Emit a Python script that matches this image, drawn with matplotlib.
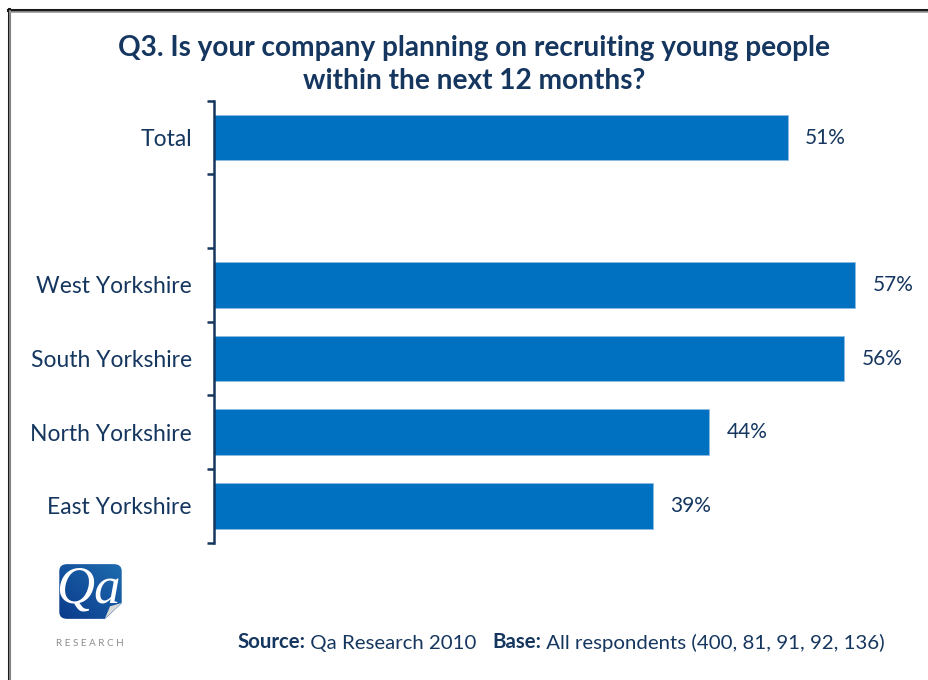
import numpy as np
import matplotlib
matplotlib.use("Agg")
import matplotlib.pyplot as plt
from matplotlib.patches import FancyBboxPatch, Polygon
from matplotlib.lines import Line2D
from matplotlib.text import Annotation

# Survey results
categories = ["Total", "", "West Yorkshire", "South Yorkshire", "North Yorkshire", "East Yorkshire"]
values = [51, None, 57, 56, 44, 39]
value_labels = ["51%", None, "57%", "56%", "44%", "39%"]

title = "Q3. Is your company planning on recruiting young people\nwithin the next 12 months?"
source_parts = [("Source:", "bold"), (" Qa Research 2010   ", "normal"),
                ("Base:", "bold"), (" All respondents (400, 81, 91, 92, 136)", "normal")]

NAVY = "#15365f"
BAR = "#0070c0"
FONT = ["Lato", "DejaVu Sans"]
plt.rcParams["font.family"] = FONT

W, H = 929, 680
fig = plt.figure(figsize=(W / 100, H / 100), dpi=100)
fig.patch.set_facecolor("white")


def fx(px):
    return px / W


def fy(py):
    return 1 - py / H


# Page frame (top and left edges)
for lw, col, off in [(2.2, "#1a1a1a", 0), (1.2, "#9a9a9a", 2)]:
    fig.add_artist(Line2D([fx(8 + off), 1], [fy(9.5 + off), fy(9.5 + off)], color=col, lw=lw,
                          transform=fig.transFigure))
    fig.add_artist(Line2D([fx(8.5 + off), fx(8.5 + off)], [fy(9 + off), 0], color=col, lw=lw,
                          transform=fig.transFigure))

# Bar chart
ax_left, ax_right, ax_top, ax_bot = 214, 900, 100.7, 542.7
ax = fig.add_axes([fx(ax_left), fy(ax_bot), fx(ax_right - ax_left), (ax_bot - ax_top) / H])
px_per_pct = 11.25
ax.set_xlim(0, (ax_right - ax_left) / px_per_pct)
n = len(categories)
ax.set_ylim(n - 0.5, -0.5)

for i, (v, lab) in enumerate(zip(values, value_labels)):
    if v is None:
        continue
    ax.barh(i, v, height=0.62, color=BAR, edgecolor="#8fbbe3", linewidth=0.6)
    ax.annotate(lab, xy=(v, i), xytext=(12.5, 0), textcoords="offset points",
                va="center", ha="left", fontsize=15, color=NAVY)

for s in ["top", "right", "bottom"]:
    ax.spines[s].set_visible(False)
ax.spines["left"].set_color(NAVY)
ax.spines["left"].set_linewidth(1.8)
ax.set_xticks([])
ax.set_yticks(np.arange(-0.5, n, 1.0))
ax.set_yticklabels([])
ax.tick_params(axis="y", which="major", direction="out", length=5, width=1.8, color=NAVY)
ax.set_yticks(np.arange(n), minor=True)
ax.set_yticklabels(categories, minor=True, fontsize=16.5, color=NAVY)
ax.tick_params(axis="y", which="minor", length=0, pad=16)
ax.patch.set_alpha(0)

# Title
fig.text(fx(474), fy(64.5), title, ha="center", va="center", fontsize=20.2, fontweight="bold",
         color=NAVY, linespacing=1.3)

# Source line: pieces chained so each follows the previous one
prev = None
for txt, wt in source_parts:
    if prev is None:
        prev = fig.text(fx(237), fy(648), txt, ha="left", va="baseline", fontsize=14.7,
                        fontweight=wt, color=NAVY)
    else:
        prev = fig.add_artist(Annotation(
            txt, xy=(1, 0), xycoords=prev, xytext=(0, 0), textcoords="offset points",
            ha="left", va="bottom", fontsize=14.7, fontweight=wt, color=NAVY))

# Logo
lx0, lx1, ly0, ly1 = 58, 123, 563, 620
lax = fig.add_axes([fx(lx0), fy(ly1), fx(lx1 - lx0), (ly1 - ly0) / H])
lax.set_xlim(0, 1)
lax.set_ylim(0, 1)
lax.axis("off")
grad = np.linspace(0, 1, 64)
gx, gy = np.meshgrid(grad, grad)
g = (gx * 0.5 + gy * 0.5)
c0 = np.array([0x0b, 0x3a, 0x8a]) / 255
c1 = np.array([0x1e, 0x6c, 0xb0]) / 255
img = c0[None, None, :] * (1 - g[..., None]) + c1[None, None, :] * g[..., None]
im = lax.imshow(img, extent=(0, 1, 0, 1), origin="lower", aspect="auto")
clip = FancyBboxPatch((0.02, 0.02), 0.96, 0.96, boxstyle="round,pad=0,rounding_size=0.12",
                      transform=lax.transAxes, facecolor="none", edgecolor="none")
lax.add_patch(clip)
im.set_clip_path(clip)
lax.add_patch(Polygon([[0.72, 0.02], [0.98, 0.02], [0.98, 0.30]], closed=True,
                      facecolor="white", edgecolor="none"))
lax.add_patch(Polygon([[0.72, 0.02], [0.98, 0.30], [0.80, 0.24]], closed=True,
                      facecolor="#d8d8d8", edgecolor="none"))
lax.text(0.47, 0.54, "Qa", ha="center", va="center", color="white", fontsize=38,
         fontstyle="italic", family=["Liberation Serif", "DejaVu Serif"])
fig.text(fx(90), fy(643), "R E S E A R C H", ha="center", va="center", fontsize=7.2,
         color="#8c8c8c")

fig.savefig("out.png", dpi=100)
